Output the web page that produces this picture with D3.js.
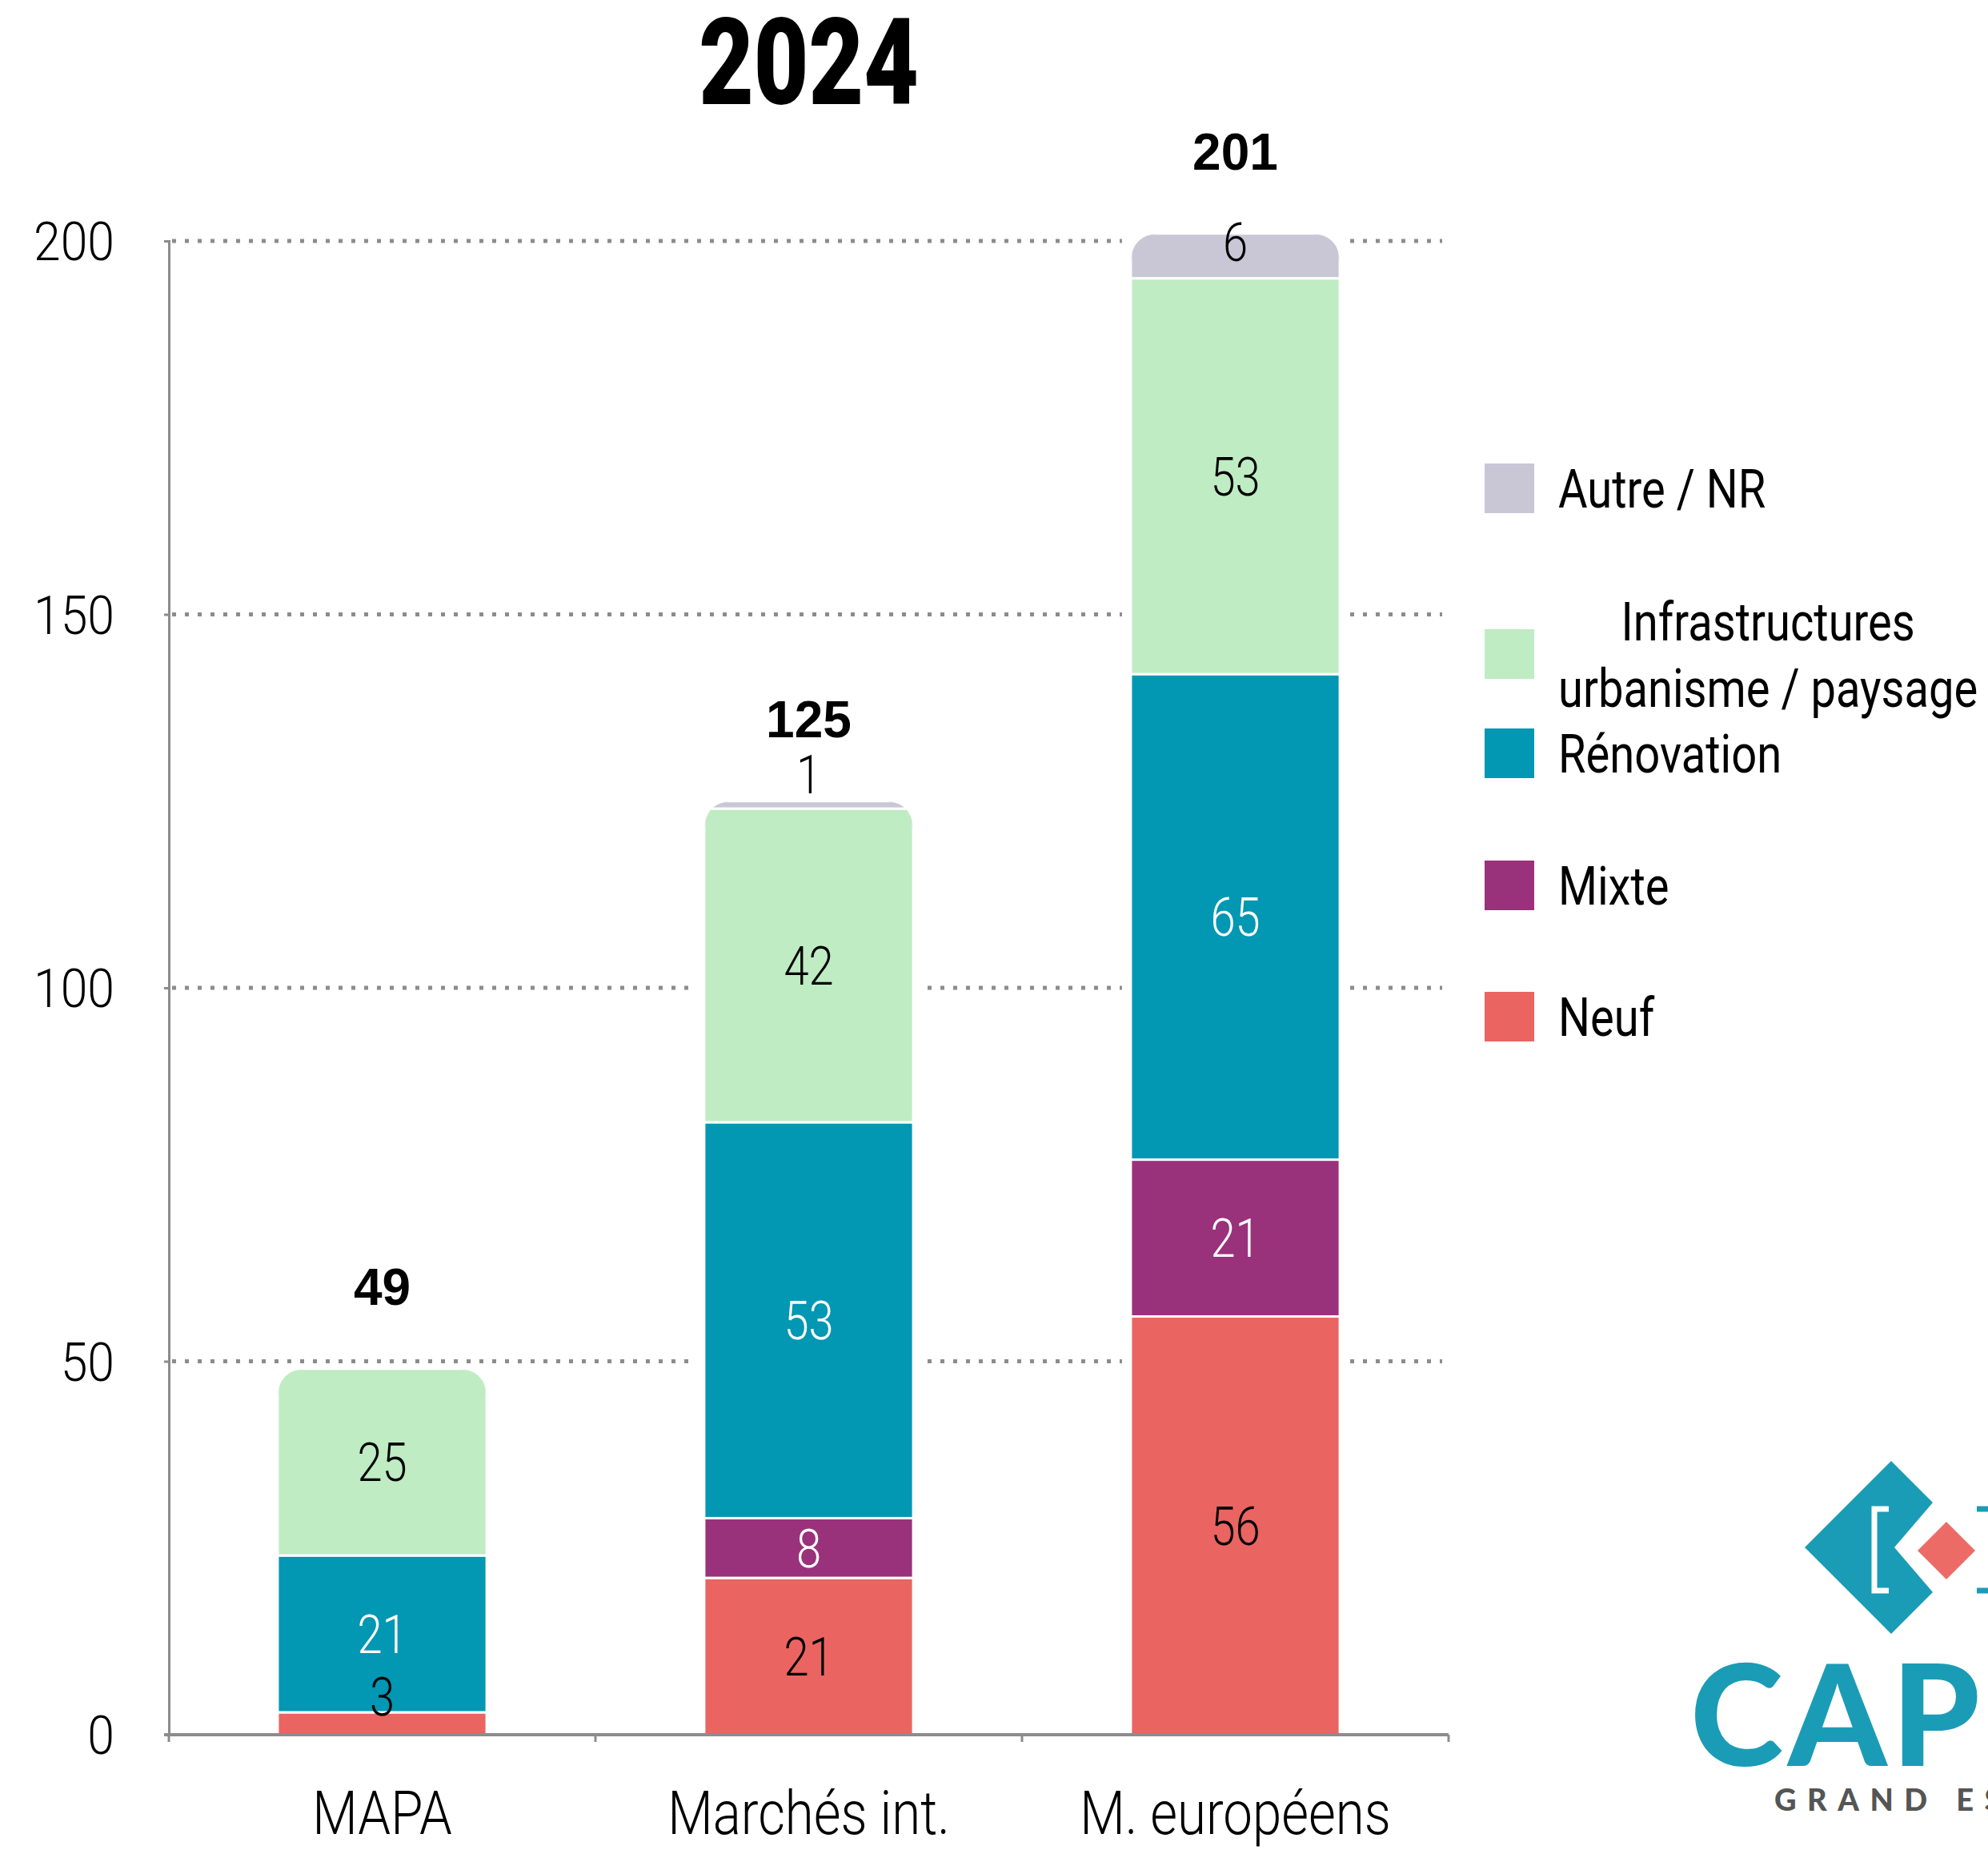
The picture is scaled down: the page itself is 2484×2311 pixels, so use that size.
<!DOCTYPE html>
<html>
<head>
<meta charset="utf-8">
<script src="https://cdn.jsdelivr.net/npm/d3@7"></script>
<style>
  html, body { margin: 0; padding: 0; background: #ffffff; }
  svg { display: block; }
</style>
</head>
<body>
<svg id="chart" width="2484" height="2311"></svg>
<script>
// ---- data ----
const categories = ["MAPA", "Marchés int.", "M. européens"];
const neuf = [3, 21, 56];
const mixte = [0, 8, 21];
const renovation = [21, 53, 65];
const infrastructures = [25, 42, 53];
const autre = [0, 1, 6];
const yTicks = [0, 50, 100, 150, 200];
const seriesNames = ["Neuf", "Mixte", "Rénovation", "Infrastructures urbanisme / paysage", "Autre / NR"];
const seriesValues = [neuf, mixte, renovation, infrastructures, autre];
const seriesColors = ["#ea6461", "#99327b", "#0297b3", "#bfecc3", "#c9c6d6"];
const labelColors = ["#000000", "#ffffff", "#ffffff", "#000000", "#000000"];
const titleText = "2024";

// ---- layout ----
const svg = d3.select("#chart");
const plot = { left: 211, right: 1810, top: 301, bottom: 2167 };
const GRID = "#8c8c8c";
const NARROW = 0.85;
const FONT = "Roboto, 'Noto Sans', sans-serif";

const rows = categories.map((c, i) => {
  const r = { cat: c };
  seriesNames.forEach((s, k) => { r[s] = seriesValues[k][i]; });
  return r;
});
const stacked = d3.stack().keys(seriesNames)(rows);
const totals = rows.map(r => d3.sum(seriesNames, s => r[s]));

const x = d3.scaleBand().domain(categories)
  .range([plot.left, plot.right]).paddingInner(0.51).paddingOuter(0.255);
const y = d3.scaleLinear().domain([0, 200]).range([plot.bottom, plot.top]);
const color = d3.scaleOrdinal().domain(seriesNames).range(seriesColors);

// condensed text: a scaled group holding one text node
function narrowText(parent, px, py, str, o) {
  const g = parent.append("g")
    .attr("transform", `translate(${px},${py}) scale(${o.sx || NARROW},1)`);
  return g.append("text")
    .attr("x", 0).attr("y", 0)
    .attr("text-anchor", o.anchor || "middle")
    .attr("dy", o.dy !== undefined ? o.dy : "0.36em")
    .style("font-family", o.family || FONT)
    .style("font-size", (o.size || 66) + "px")
    .style("font-weight", o.weight || 300)
    .attr("fill", o.fill || "#000")
    .text(str);
}

// ---- gridlines ----
svg.append("g").selectAll("line")
  .data(yTicks.filter(v => v > 0))
  .join("line")
  .attr("x1", plot.left + 4).attr("x2", plot.right - 8)
  .attr("y1", d => y(d)).attr("y2", d => y(d))
  .attr("stroke", GRID).attr("stroke-width", 5)
  .attr("stroke-dasharray", "5,11");

// ---- white halo behind each stack (clears the grid beside bars) ----
svg.append("g").selectAll("rect")
  .data(rows)
  .join("rect")
  .attr("x", d => x(d.cat) - 11)
  .attr("width", x.bandwidth() + 22)
  .attr("y", (d, i) => y(totals[i]))
  .attr("height", (d, i) => y(0) - y(totals[i]))
  .attr("fill", "#ffffff");

// ---- rounded-top clip per stack ----
const defs = svg.append("defs");
const R = 38;
rows.forEach((d, i) => {
  const x0 = x(d.cat), x1 = x0 + x.bandwidth();
  const t = y(totals[i]), b = y(0);
  defs.append("clipPath").attr("id", "clip" + i)
    .append("path")
    .attr("d", `M${x0},${b} V${t + R} Q${x0},${t} ${x0 + R},${t} H${x1 - R} Q${x1},${t} ${x1},${t + R} V${b} Z`);
});

// ---- stacked bars ----
const barsG = svg.append("g");
stacked.forEach((layer, k) => {
  layer.forEach((seg, i) => {
    if (seg[1] - seg[0] <= 0) return;
    barsG.append("g").attr("clip-path", `url(#clip${i})`)
      .append("rect")
      .attr("x", x(categories[i]))
      .attr("width", x.bandwidth())
      .attr("y", y(seg[1]))
      .attr("height", y(seg[0]) - y(seg[1]))
      .attr("fill", color(layer.key))
      .attr("stroke", "#ffffff")
      .attr("stroke-width", 3);
  });
});

// ---- axes ----
const yAxis = svg.append("g")
  .attr("transform", `translate(${plot.left},0)`)
  .call(d3.axisLeft(y).tickValues(yTicks).tickSize(6).tickSizeOuter(6));
yAxis.select(".domain").attr("stroke", GRID).attr("stroke-width", 3);
yAxis.selectAll(".tick line").attr("stroke", GRID).attr("stroke-width", 3);
yAxis.selectAll(".tick text")
  .attr("x", 0).attr("dy", "0.36em")
  .attr("transform", "translate(-68,0) scale(0.92,1)")
  .attr("text-anchor", "end")
  .attr("fill", "#000")
  .style("font-family", FONT).style("font-size", "66px").style("font-weight", 300);

const xAxis = svg.append("g")
  .attr("transform", `translate(0,${plot.bottom})`)
  .call(d3.axisBottom(x).tickSize(0).tickSizeOuter(0));
xAxis.select(".domain").attr("stroke", GRID).attr("stroke-width", 4)
  .attr("d", `M${plot.left - 6},0H${plot.right}`);
xAxis.selectAll(".tick text")
  .attr("y", 124).attr("dy", 0)
  .attr("transform", "scale(0.86,1)")
  .attr("fill", "#000")
  .style("font-family", FONT).style("font-size", "76px").style("font-weight", 300);
// band boundary ticks
const bounds = categories.map(c => x(c) - x.step() * x.paddingInner() / 2)
  .concat([plot.right]);
bounds[0] = plot.left;
xAxis.append("g").selectAll("line")
  .data(bounds)
  .join("line")
  .attr("x1", d => d).attr("x2", d => d)
  .attr("y1", 0).attr("y2", 9)
  .attr("stroke", GRID).attr("stroke-width", 3);

// ---- segment value labels ----
// vertical nudges for the thin segments whose labels sit outside the centre
const labelNudge = { "Neuf|MAPA": -34, "Autre / NR|Marchés int.": -38, "Autre / NR|M. européens": -17 };
const labelsG = svg.append("g");
stacked.forEach((layer, k) => {
  layer.forEach((seg, i) => {
    const v = seg[1] - seg[0];
    if (v <= 0) return;
    const cy = y((seg[0] + seg[1]) / 2) + (labelNudge[layer.key + "|" + categories[i]] || 0);
    narrowText(labelsG, x(categories[i]) + x.bandwidth() / 2, cy, String(v),
      { fill: labelColors[k], size: 66, weight: 300 });
  });
});

// ---- totals ----
svg.append("g").selectAll("text")
  .data(totals)
  .join("text")
  .attr("x", (d, i) => x(categories[i]) + x.bandwidth() / 2)
  .attr("y", d => y(d) - 80)
  .attr("text-anchor", "middle")
  .style("font-family", "'Liberation Sans', Arial, sans-serif")
  .style("font-size", "64px").style("font-weight", 700)
  .attr("fill", "#000")
  .text(d => d);

// ---- title ----
narrowText(svg, x(categories[1]) + x.bandwidth() / 2, 130, titleText,
  { size: 150, weight: 900, sx: 0.79, dy: 0, family: "Roboto, 'DejaVu Sans', sans-serif" });

// ---- legend ----
const legend = svg.append("g");
const legendRows = [
  { k: 4, y: 610 },
  { k: 3, y: 817, lines: ["Infrastructures", "urbanisme / paysage"], ly: [776, 859] },
  { k: 2, y: 941 },
  { k: 1, y: 1106 },
  { k: 0, y: 1270 }
];
const swX = 1855, swS = 62, txX = 1947;
legendRows.forEach(r => {
  legend.append("rect")
    .attr("x", swX).attr("y", r.y - swS / 2)
    .attr("width", swS).attr("height", swS)
    .attr("fill", seriesColors[r.k]);
  if (r.lines) {
    const second = narrowText(legend, txX, r.ly[1], r.lines[1], { anchor: "start", weight: 400 });
    const w = second.node().getComputedTextLength() * NARROW;
    narrowText(legend, txX + w / 2, r.ly[0], r.lines[0], { anchor: "middle", weight: 400 });
  } else {
    narrowText(legend, txX, r.y, seriesNames[r.k], { anchor: "start", weight: 400 });
  }
});

// ---- logo ----
const teal = "#1b9cb6", red = "#ec6b66";
const logo = svg.append("g");
logo.append("path")
  .attr("d", "M2363,1825 L2415,1877 L2367,1933 L2415,1989 L2363,2041 L2255,1933 Z")
  .attr("fill", teal);
logo.append("path")
  .attr("d", "M2360,1885 H2342 V1987 H2360")
  .attr("fill", "none").attr("stroke", "#ffffff").attr("stroke-width", 7);
logo.append("path")
  .attr("d", "M2432,1901 L2468,1937 L2432,1973 L2396,1937 Z")
  .attr("fill", red);
logo.append("path")
  .attr("d", "M2470,1885 H2492 V1987 H2470")
  .attr("fill", "none").attr("stroke", teal).attr("stroke-width", 7);
logo.append("text")
  .attr("x", 2112).attr("y", 2206)
  .style("font-family", "Lato, 'Open Sans', sans-serif")
  .style("font-size", "176px").style("font-weight", 900)
  .style("letter-spacing", "6px")
  .attr("fill", teal)
  .text("CAPEB");
logo.append("text")
  .attr("x", 2217).attr("y", 2262)
  .style("font-family", "Lato, 'Open Sans', sans-serif")
  .style("font-size", "38px").style("font-weight", 900)
  .style("letter-spacing", "13.5px")
  .attr("fill", "#555555")
  .text("GRAND EST");
</script>
</body>
</html>
